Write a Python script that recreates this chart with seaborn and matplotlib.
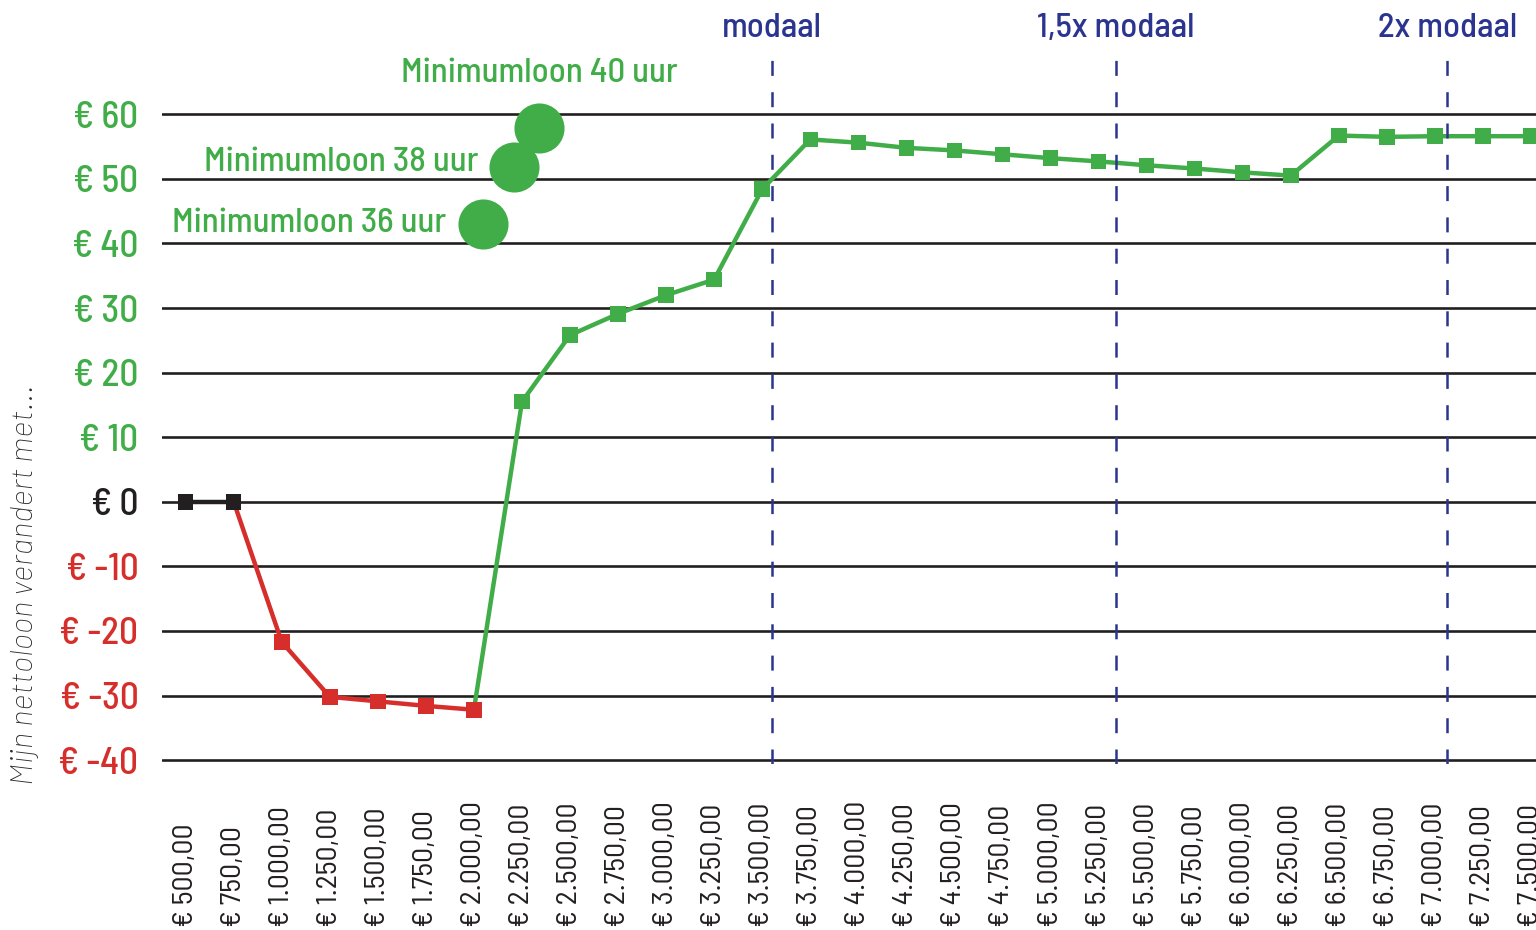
import pandas as pd
import matplotlib.pyplot as plt
import seaborn as sns
from matplotlib import font_manager

# bruto maandloon (x-as) en verandering van het nettoloon (y-as)
salaries = [500, 750, 1000, 1250, 1500, 1750, 2000, 2250, 2500, 2750,
            3000, 3250, 3500, 3750, 4000, 4250, 4500, 4750, 5000, 5250,
            5500, 5750, 6000, 6250, 6500, 6750, 7000, 7250, 7500]
netto_change = [0, 0, -21.7, -30.2, -30.9, -31.6, -32.2, 15.5, 25.8, 29.1,
                32.0, 34.4, 48.4, 56.1, 55.6, 54.8, 54.4, 53.8, 53.2, 52.7,
                52.1, 51.6, 51.0, 50.5, 56.7, 56.5, 56.6, 56.6, 56.6]
groups = ['nul'] * 2 + ['min'] * 5 + ['plus'] * 22

x_labels = ['€ ' + f'{s:,.2f}'.replace(',', '#').replace('.', ',').replace('#', '.')
            for s in salaries]

y_ticks = [-40, -30, -20, -10, 0, 10, 20, 30, 40, 50, 60]

# minimumloon-punten
min_labels = ['Minimumloon 36 uur', 'Minimumloon 38 uur', 'Minimumloon 40 uur']
min_x = [2047, 2210, 2340]
min_y = [43.0, 51.8, 57.9]

# modaal-lijnen
ref_labels = ['modaal', '1,5x modaal', '2x modaal']
ref_x = [3552, 5340, 7064]

GREEN = '#40ad48'
RED = '#d62f2b'
BLACK = '#231f20'
NAVY = '#2b3590'
palette = {'plus': GREEN, 'min': RED, 'nul': BLACK}

sns.set_style('white')
available = {f.name for f in font_manager.fontManager.ttflist}
candidates = ['Barlow Semi Condensed', 'Barlow', 'Roboto Condensed',
              'IBM Plex Sans Condensed', 'Liberation Sans']
main_font = next(f for f in candidates if f in available or f == 'Liberation Sans')
label_font = 'Barlow' if 'Barlow' in available else main_font
plt.rcParams['font.family'] = [main_font, 'DejaVu Sans']

df = pd.DataFrame({'loon': salaries, 'verandering': netto_change, 'groep': groups})

fig = plt.figure(figsize=(15.36, 9.3), dpi=100)
ax = fig.add_axes([162 / 1536, 1 - 764 / 930, 1 - 162 / 1536, (764 - 60) / 930])

# lijnstukken: elk stuk begint bij het laatste punt van de vorige groep
for groep in ['plus', 'min', 'nul']:
    idx = df.index[df['groep'] == groep]
    start = max(idx.min() - 1, 0)
    seg = df.loc[start:idx.max()]
    sns.lineplot(data=seg, x='loon', y='verandering', color=palette[groep],
                 lw=3.2, ax=ax, zorder=3, sort=False)

sns.scatterplot(data=df, x='loon', y='verandering', hue='groep', palette=palette,
                marker='s', s=125, linewidth=0, legend=False, ax=ax, zorder=4)

# minimumloon bollen
sns.scatterplot(x=min_x, y=min_y, color=GREEN, s=1300, linewidth=0,
                legend=False, ax=ax, zorder=4)
offsets = [(-37, -8, 'right'), (-36, -4, 'right'), (0, 46, 'center')]
for lbl, xv, yv, (dx, dy, ha) in zip(min_labels, min_x, min_y, offsets):
    ax.annotate(lbl, (xv, yv), xytext=(dx, dy), textcoords='offset pixels',
                ha=ha, va='baseline', color=GREEN, fontsize=25, fontweight='medium')

# modaal lijnen
for lbl, xv in zip(ref_labels, ref_x):
    ax.axvline(xv, color=NAVY, lw=1.8, ls=(0, (6, 6.52)), zorder=5)
    ax.text(xv, 1.033, lbl, transform=ax.get_xaxis_transform(), ha='center',
            va='baseline', color=NAVY, fontsize=25, fontweight='medium')

ax.set_xlim(377, 7526)
ax.set_ylim(-40.6, 68.4)

ax.set_yticks(y_ticks)
ax.set_yticklabels([f'€ {v}' for v in y_ticks], fontsize=27, fontweight='medium')
for lbl, v in zip(ax.get_yticklabels(), y_ticks):
    lbl.set_color(GREEN if v > 0 else (RED if v < 0 else BLACK))

ax.set_xticks(salaries)
ax.set_xticklabels(x_labels, fontsize=21.5, color=BLACK, rotation=90)
for lbl in ax.get_xticklabels():
    lbl.set_va('bottom')
    lbl.set_ha('center')

ax.tick_params(axis='y', length=0, pad=17)
ax.tick_params(axis='x', length=0, pad=117)
ax.yaxis.grid(True, color=BLACK, lw=1.9)
ax.xaxis.grid(False)
ax.set_axisbelow(True)
sns.despine(ax=ax, left=True, bottom=True)
ax.set_xlabel('')
ax.set_ylabel('')

fig.text(25 / 1536, 1 - 785 / 930, 'Mijn nettoloon verandert met...', rotation=90,
         ha='center', va='bottom', fontsize=22.5, style='italic', fontweight='light',
         color='#2a2a2a', family=[label_font, 'DejaVu Sans'])

fig.savefig('out.png', dpi=100)
